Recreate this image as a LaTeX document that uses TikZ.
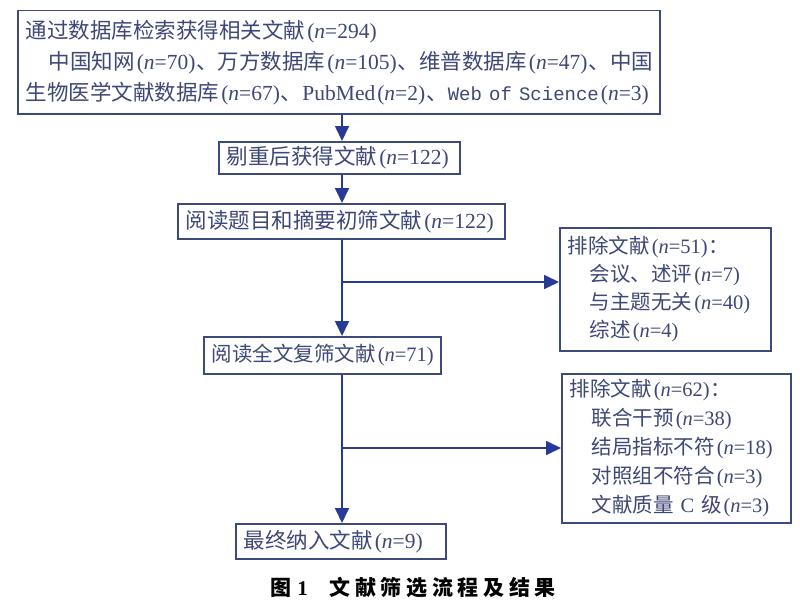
\documentclass[tikz,border=0pt]{standalone}
\usepackage{fontspec}
\setmainfont{Liberation Serif}
\setmonofont{Liberation Mono}
\newfontfamily\cjk{Noto Sans CJK SC}
\usetikzlibrary{arrows.meta}
\definecolor{textc}{RGB}{62,72,118}
\definecolor{linec}{RGB}{60,74,126}
\definecolor{arrc}{RGB}{38,58,150}
\newcommand\lat[1]{{\rmfamily #1}}
\newcommand\nn[1]{\lat{\kern2pt(\textit{n}=#1)\kern1pt}}
\begin{document}
\begin{tikzpicture}[x=1pt,y=-1pt,
  box/.style={draw=linec, line width=1.5pt, rectangle, anchor=north west, inner xsep=8pt, inner ysep=0pt, align=left, text=textc, font=\cjk\fontsize{21.5}{31}\selectfont},
  exbox/.style={box, font=\cjk\fontsize{20.5}{28}\selectfont},
  arr/.style={draw=arrc, line width=1.7pt, -{Triangle[length=15pt,width=14pt]}, arrc}]
\useasboundingbox[fill=white] (0,0) rectangle (800,602);
% boxes
\node[box, minimum width=642pt, minimum height=103pt, text width=626pt] (top) at (17,10)
  {通过数据库检索获得相关文献\nn{294}\\
   \hspace*{23pt}中国知网\nn{70}、万方数据库\nn{105}、维普数据库\nn{47}、中国\\
   生物医学文献数据库\nn{67}、\lat{PubMed}\nn{2}、{\ttfamily\fontsize{19}{31}\selectfont Web~of~Science}\nn{3}};
\node[box, minimum width=241pt, minimum height=32pt, text width=225pt] (b2) at (218,141)
  {剔重后获得文献\nn{122}};
\node[box, minimum width=327pt, minimum height=35pt, text width=311pt] (b3) at (177,203)
  {阅读题目和摘要初筛文献\nn{122}};
\node[box, minimum width=237pt, minimum height=37pt, text width=221pt, font=\cjk\fontsize{20.5}{31}\selectfont] (b4) at (203,336)
  {阅读全文复筛文献\nn{71}};
\node[box, minimum width=210pt, minimum height=35pt, text width=194pt] (b5) at (235,523)
  {最终纳入文献\nn{9}};
\node[exbox, minimum width=211pt, minimum height=123pt, text width=195pt] (ex1) at (559,227)
  {排除文献\nn{51}：\\
   \hspace*{22pt}会议、述评\nn{7}\\
   \hspace*{22pt}与主题无关\nn{40}\\
   \hspace*{22pt}综述\nn{4}};
\node[exbox, minimum width=229pt, minimum height=149pt, text width=213pt, font=\cjk\fontsize{20.5}{29}\selectfont] (ex2) at (561,373)
  {排除文献\nn{62}：\\
   \hspace*{22pt}联合干预\nn{38}\\
   \hspace*{22pt}结局指标不符\nn{18}\\
   \hspace*{22pt}对照组不符合\nn{3}\\
   \hspace*{22pt}文献质量\lat{~C~}级\nn{3}};
% caption
\node[font=\cjk\bfseries\fontsize{21}{25}\selectfont, text=black, inner sep=0pt] (cap) at (413,588)
  {\addfontfeature{LetterSpace=22}图\hspace{6pt}\lat{\bfseries 1}\hspace{22pt}文献筛选流程及结果};
% connectors
\coordinate (axis) at (342,0);
\coordinate (br1) at (342,282);
\coordinate (br2) at (342,448);
\draw[arr] (top.south -| axis) -- (b2.north -| axis);
\draw[arr] (b2.south -| axis) -- (b3.north -| axis);
\draw[arr] (b3.south -| axis) -- (b4.north -| axis);
\draw[arr] (br1) -- (ex1.west |- br1);
\draw[arr] (b4.south -| axis) -- (b5.north -| axis);
\draw[arr] (br2) -- (ex2.west |- br2);
\end{tikzpicture}
\end{document}
